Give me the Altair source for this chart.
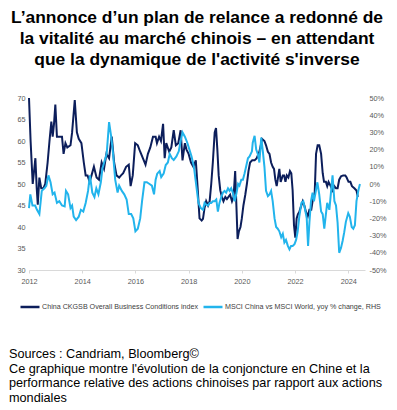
import altair as alt
import pandas as pd

FONT = "Liberation Sans"

ckgsb_year = [2012.00, 2012.06, 2012.14, 2012.19, 2012.24, 2012.29, 2012.33, 2012.39, 2012.46, 2012.54,
              2012.61, 2012.70, 2012.77, 2012.84, 2012.89, 2012.94, 2012.99, 2013.05, 2013.14, 2013.24,
              2013.30, 2013.37, 2013.44, 2013.56, 2013.62, 2013.72, 2013.80, 2013.87, 2013.97, 2014.06,
              2014.13, 2014.20, 2014.28, 2014.35, 2014.44, 2014.54, 2014.63, 2014.73, 2014.82, 2014.91,
              2015.01, 2015.11, 2015.20, 2015.29, 2015.39, 2015.46, 2015.54, 2015.65, 2015.75, 2015.82,
              2015.90, 2015.99, 2016.09, 2016.18, 2016.28, 2016.38, 2016.47, 2016.56, 2016.66, 2016.76,
              2016.81, 2016.89, 2016.96, 2017.04, 2017.10, 2017.16, 2017.27, 2017.35, 2017.44, 2017.52,
              2017.61, 2017.70, 2017.77, 2017.86, 2017.92, 2018.00, 2018.09, 2018.18, 2018.27, 2018.34,
              2018.41, 2018.49, 2018.54, 2018.60, 2018.66, 2018.73, 2018.79, 2018.85, 2018.91, 2018.98,
              2019.03, 2019.08, 2019.13, 2019.19, 2019.25, 2019.31, 2019.38, 2019.44, 2019.50, 2019.56,
              2019.63, 2019.69, 2019.75, 2019.79, 2019.84, 2019.89, 2019.95, 2020.00, 2020.06, 2020.13,
              2020.19, 2020.25, 2020.31, 2020.39, 2020.48, 2020.56, 2020.66, 2020.73, 2020.76, 2020.85,
              2020.91, 2020.98, 2021.04, 2021.10, 2021.16, 2021.21, 2021.26, 2021.31, 2021.36, 2021.41,
              2021.46, 2021.54, 2021.59, 2021.64, 2021.69, 2021.75, 2021.81, 2021.86, 2021.91, 2021.96,
              2022.01, 2022.06, 2022.11, 2022.16, 2022.21, 2022.29, 2022.35, 2022.41, 2022.48, 2022.54,
              2022.61, 2022.66, 2022.74, 2022.79, 2022.85, 2022.91, 2022.98, 2023.04, 2023.09, 2023.16,
              2023.21, 2023.26, 2023.34, 2023.41, 2023.48, 2023.54, 2023.60, 2023.66, 2023.73, 2023.81,
              2023.89, 2023.94, 2024.01, 2024.08, 2024.14, 2024.23, 2024.31, 2024.36]
ckgsb_value = [70, 60, 50, 53, 56, 49, 45.2, 51.5, 49, 49,
               50, 55, 60, 64.5, 61, 64, 68.5, 61, 61, 61,
               57, 59.5, 58.5, 59, 62, 69.5, 62, 60.5, 59.5, 55,
               52, 52, 50.5, 52, 54, 51.5, 51, 55, 53.5, 57,
               56, 61, 55, 52, 51.5, 52, 52.5, 54, 54.5, 49.5,
               52, 59.5, 59, 57.5, 56, 54.5, 57, 58.5, 61, 61,
               59.5, 61, 60, 64, 56, 59.5, 57.5, 58.5, 62.5, 59,
               59.5, 62.5, 55.5, 59.5, 58, 57, 55, 54, 55.5, 49,
               42, 41.5, 41.9, 44.5, 46, 45, 46, 50, 55, 62,
               63, 58, 52, 48.5, 47, 46, 47, 46.5, 47, 47.5,
               46, 47, 53, 46, 37.2, 39, 40, 42, 45, 47.5,
               50, 53, 55, 55.5, 55.5, 56, 57.5, 59.5, 60.5, 60,
               59, 57.5, 57, 55, 54, 53.5, 51, 49.5, 51.5, 53.5,
               50.5, 52, 52, 50.5, 52, 51.5, 53, 52.5, 48.5, 40.5,
               37.5, 42, 43, 43.5, 44.5, 46, 45, 43.5, 42.5, 44,
               44, 46, 48, 57, 59, 59, 57, 52.5, 50.5, 50.5,
               49.5, 50.5, 49.5, 48.5, 49.5, 49, 49, 51, 51.8, 52,
               52, 51.5, 50.5, 50.5, 49.5, 49, 48.5, 47]

msci_year = [2012.00, 2012.05, 2012.13, 2012.23, 2012.30, 2012.39, 2012.48, 2012.58, 2012.65, 2012.73,
             2012.81, 2012.89, 2012.96, 2013.05, 2013.14, 2013.24, 2013.34, 2013.39, 2013.47, 2013.56,
             2013.62, 2013.68, 2013.77, 2013.87, 2013.95, 2014.04, 2014.13, 2014.22, 2014.29, 2014.38,
             2014.46, 2014.53, 2014.61, 2014.70, 2014.76, 2014.85, 2014.92, 2015.01, 2015.09, 2015.16,
             2015.24, 2015.33, 2015.39, 2015.49, 2015.58, 2015.67, 2015.75, 2015.84, 2015.92, 2016.00,
             2016.09, 2016.18, 2016.25, 2016.34, 2016.43, 2016.53, 2016.62, 2016.70, 2016.76, 2016.82,
             2016.91, 2016.97, 2017.06, 2017.14, 2017.22, 2017.29, 2017.37, 2017.44, 2017.54, 2017.63,
             2017.70, 2017.77, 2017.86, 2017.95, 2018.03, 2018.11, 2018.20, 2018.28, 2018.37, 2018.46,
             2018.54, 2018.60, 2018.66, 2018.73, 2018.79, 2018.85, 2018.91, 2018.98, 2019.04, 2019.10,
             2019.16, 2019.23, 2019.29, 2019.35, 2019.41, 2019.48, 2019.54, 2019.60, 2019.66, 2019.73,
             2019.79, 2019.86, 2019.91, 2019.98, 2020.04, 2020.10, 2020.16, 2020.23, 2020.29, 2020.38,
             2020.41, 2020.48, 2020.54, 2020.60, 2020.66, 2020.73, 2020.79, 2020.85, 2020.91, 2020.98,
             2021.04, 2021.10, 2021.16, 2021.23, 2021.29, 2021.35, 2021.41, 2021.48, 2021.54, 2021.60,
             2021.66, 2021.73, 2021.79, 2021.85, 2021.91, 2021.98, 2022.04, 2022.10, 2022.16, 2022.24,
             2022.31, 2022.38, 2022.44, 2022.49, 2022.54, 2022.60, 2022.66, 2022.71, 2022.76, 2022.84,
             2022.91, 2022.98, 2023.04, 2023.10, 2023.16, 2023.21, 2023.29, 2023.35, 2023.41, 2023.48,
             2023.54, 2023.60, 2023.66, 2023.73, 2023.79, 2023.85, 2023.91, 2024.00, 2024.06, 2024.13,
             2024.19, 2024.25, 2024.31, 2024.39, 2024.44]
msci_pct = [-14, -6, -12.5, -12.5, -15, -17.5, -4, -2.5, -1, 5,
            1, -6, -5, -11, -10, -12.5, -13, -4, -6, -14,
            -12.5, -19, -21, -19, -15, -16, -11, -4, 5, -5,
            -7.5, -2.5, -6, 1, 9, 14, 17.5, 36, 27.5, 17.5,
            2.5, -5, -1, -4, -6, -9, -17.5, -17.5, -20, -27.5,
            -26, -20, -10, 1, 1, 0, -1, -6, 2.5, 6,
            7.5, 4, 6, 11, 12.5, 17.5, 15, 14, 16, 19,
            25, 30, 27.5, 24, 20, 16, 10, 0, -11, -14,
            -15, -11, -12, -12.5, -11, -11, -10, -10, -9, -16,
            -11, -7.5, -5, -4, -5, -2.5, -4, -2.5, -5, -10,
            -6, 0, -1, 2.5, 2.5, 6, 10, 15, 16, 19,
            24, 28, 20, 17.5, 12.5, 27, 19, 10, -4, -7,
            -6, -4, -10, -20, -25, -26, -27.5, -31, -29, -34,
            -32.5, -36, -38, -36, -36, -35, -32.5, -27.5, -19, -11,
            -10, -15, -20, -36, -22.5, -10, -5, -10, -6, 1,
            -6, -16, -17.5, -26, -17.5, -11, -15, -5, 5, -10,
            -12.5, -22.5, -40, -37, -33, -28, -22, -17, -19, -25,
            -26, -24, -10, -3, 0]

S1 = "China CKGSB Overall Business Conditions index"
S2 = "MSCI China vs MSCI World, yoy % change, RHS"

title_lines = ["L\u2019annonce d\u2019un plan de relance a redonné de",
               "la vitalité au marché chinois \u2013 en attendant",
               "que la dynamique de l'activité s'inverse"]
footer_lines = ["Sources : Candriam, Bloomberg©",
                "Ce graphique montre l'évolution de la conjoncture en Chine et la",
                "performance relative des actions chinoises par rapport aux actions",
                "mondiales"]

df1 = pd.DataFrame({"year": ckgsb_year, "value": ckgsb_value, "series": S1})
df2 = pd.DataFrame({"year": msci_year, "pct": msci_pct, "series": S2})

LABEL = "#595959"
AX_FS = 7.3

color = alt.Color(
    "series:N",
    scale=alt.Scale(domain=[S1, S2], range=["#0c1e5b", "#22b4ec"]),
    legend=alt.Legend(orient="none", legendX=-10, legendY=198, direction="horizontal", title=None,
                      symbolType="stroke", symbolSize=361, symbolStrokeWidth=2.5,
                      labelFontSize=7.15, labelColor="#404040", labelFont=FONT,
                      columnPadding=0, labelLimit=300, labelOffset=1, gridAlign="none"),
)

x = alt.X("year:Q",
          scale=alt.Scale(domain=[2012, 2024.63], nice=False, zero=False),
          axis=alt.Axis(values=[2012, 2014, 2016, 2018, 2020, 2022, 2024], format="d",
                        title=None, grid=False, domainColor="#d9d9d9", tickColor="#d9d9d9",
                        tickSize=3, labelColor=LABEL, labelFontSize=AX_FS, labelFont=FONT,
                        labelPadding=4, labelFlush=False))

left = alt.Chart(df1).mark_line(strokeWidth=2).encode(
    x=x,
    y=alt.Y("value:Q", scale=alt.Scale(domain=[30, 70], nice=False, zero=False),
            axis=alt.Axis(values=list(range(30, 71, 5)), title=None, grid=False,
                          domain=False, ticks=False, labelColor=LABEL, labelFontSize=AX_FS,
                          labelFont=FONT, labelPadding=4)),
    color=color,
)

right = alt.Chart(df2).mark_line(strokeWidth=2).encode(
    x=x,
    y=alt.Y("pct:Q", scale=alt.Scale(domain=[-50, 50], nice=False, zero=False),
            axis=alt.Axis(orient="right", values=list(range(-50, 51, 10)), title=None,
                          grid=False, domain=False, ticks=False, labelColor=LABEL,
                          labelFontSize=AX_FS, labelFont=FONT, labelPadding=4,
                          labelExpr="datum.value + '%'")),
    color=color,
)

main = alt.layer(left, right).resolve_scale(y="independent").properties(
    width=336, height=172,
    title=alt.TitleParams(text=title_lines, fontSize=17.4, fontWeight="bold", font=FONT,
                          color="#000000", lineHeight=21, anchor="middle", offset=26),
)

chart = alt.vconcat(main).properties(
    padding={"left": 0, "top": 0, "right": 0, "bottom": 0},
    title=alt.TitleParams(text=footer_lines, orient="bottom", anchor="start", fontSize=12.7,
                          fontWeight="normal", font=FONT, color="#000000", lineHeight=14.5,
                          offset=36, dx=-2),
).configure_view(stroke=None)

chart.save("out.html", embed_options={"renderer": "svg", "actions": False})
